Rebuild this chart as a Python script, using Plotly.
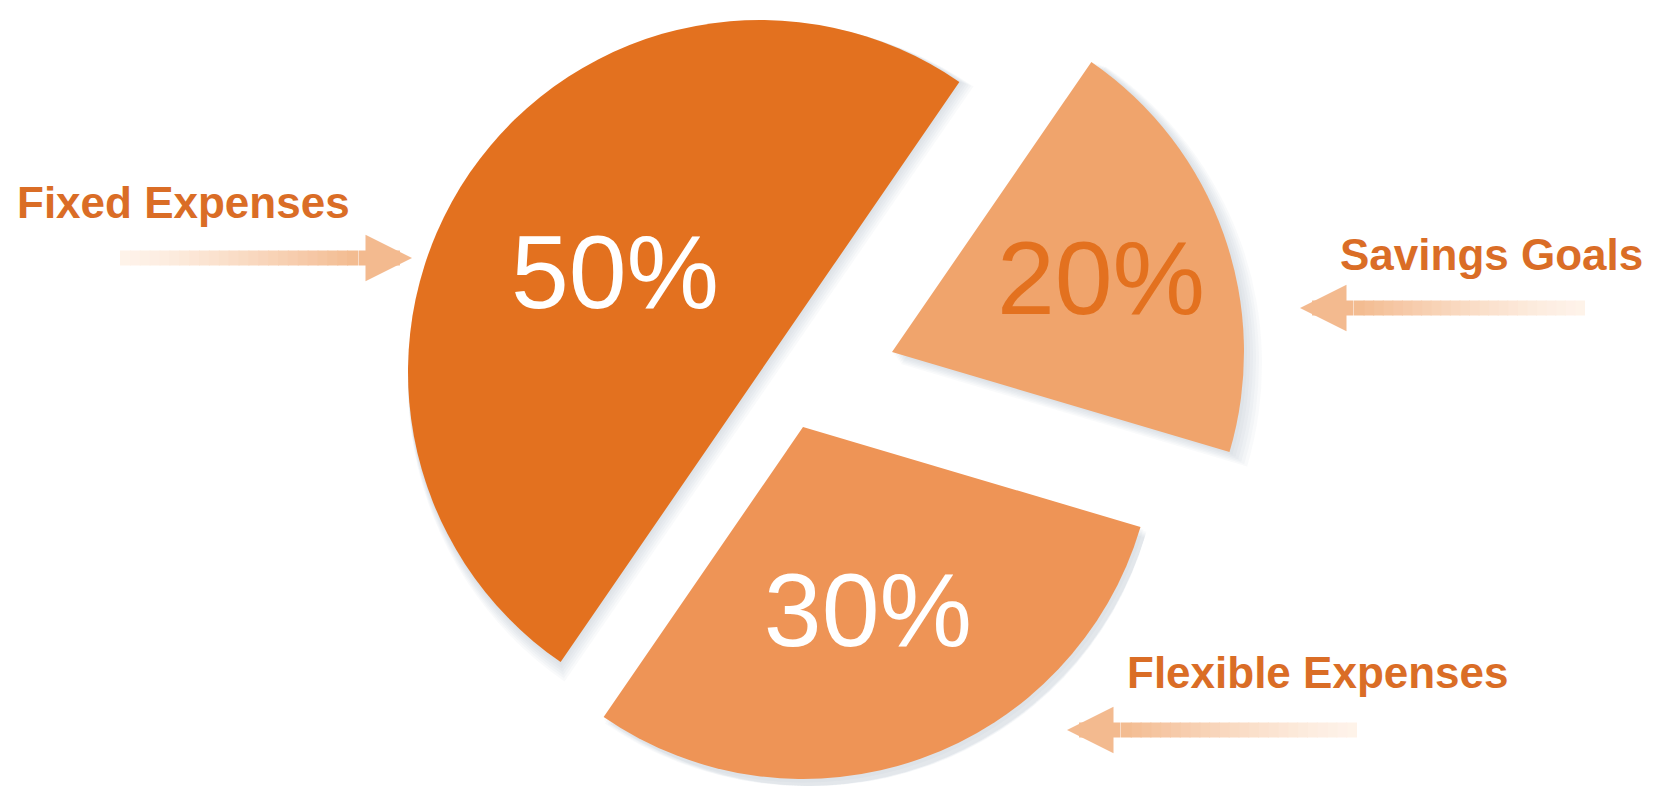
import plotly.graph_objects as go

# ---------------- data ----------------
categories = ["Fixed Expenses", "Savings Goals", "Flexible Expenses"]
shares = [50, 20, 30]
slice_colors = ["#E3711F", "#F0A46C", "#EE9456"]
pct_text_colors = ["#FFFFFF", "#E3711F", "#FFFFFF"]

# ---------------- layout constants ----------------
W, H = 1663, 786
R = 352
ROTATION = 214.5
# pixel position of each exploded slice's centre point
apex = [(760, 372), (892, 352), (803, 427)]

FONT = "Liberation Sans, Arial, Helvetica, sans-serif"
LABEL_COLOR = "#DA6D26"

fig = go.Figure()


def slice_trace(i, cx, cy, radius, color, with_text):
    # keep the pie box inside the paper
    radius = min(radius, cx, W - cx, cy, H - cy)
    colors = [color if j == i else "rgba(0,0,0,0)" for j in range(len(shares))]
    texts = [f"{shares[j]}%" if (j == i and with_text) else "" for j in range(len(shares))]
    return go.Pie(
        labels=categories,
        values=shares,
        sort=False,
        direction="clockwise",
        rotation=ROTATION,
        marker=dict(colors=colors, line=dict(width=0)),
        text=texts,
        textinfo="text",
        textposition="inside",
        insidetextorientation="horizontal",
        insidetextfont=dict(color=pct_text_colors[i], size=104, family=FONT),
        domain=dict(x=[max(0, (cx - radius) / W), min(1, (cx + radius) / W)],
                    y=[max(0, 1 - (cy + radius) / H), min(1, 1 - (cy - radius) / H)]),
        showlegend=False,
        hoverinfo="skip" if not with_text else "label+percent",
    )


# soft shadows (layered translucent copies, offset down-right)
for i, (cx, cy) in enumerate(apex):
    for k in range(6, 0, -1):
        fig.add_trace(slice_trace(i, cx + 1.5 * k, cy + 2 * k,
                                  R + 1.5 * k, "rgba(140,155,175,0.055)", False))

# the slices themselves
for i, (cx, cy) in enumerate(apex):
    fig.add_trace(slice_trace(i, cx, cy, R, slice_colors[i], True))

# ---------------- labels ----------------
label_pos = [(15, 202, "left"), (1645, 254, "right"), (1125, 672, "left")]
for name, (lx, ly, anc) in zip(categories, label_pos):
    fig.add_annotation(
        x=lx / W, y=1 - ly / H, xref="paper", yref="paper",
        text=name, showarrow=False, xanchor=anc, yanchor="middle",
        font=dict(family=FONT, size=44, color=LABEL_COLOR, weight="bold"),
    )

# ---------------- gradient arrows ----------------
def lerp_color(c1, c2, t):
    a = [int(c1[k:k + 2], 16) for k in (1, 3, 5)]
    b = [int(c2[k:k + 2], 16) for k in (1, 3, 5)]
    return "rgb({},{},{})".format(*[round(a[k] + (b[k] - a[k]) * t) for k in range(3)])


PALE, PEACH = "#FEF3EA", "#F3BA8F"


def add_arrow(x_tail, x_tip, y, n=24):
    d = 1 if x_tip > x_tail else -1
    head_back = 55
    shaft_end = x_tip - d * head_back
    for k in range(n):
        x0 = x_tail + (shaft_end - x_tail) * k / n
        x1 = x_tail + (shaft_end - x_tail) * (k + 1) / n + d * 1
        fig.add_shape(type="line", xref="paper", yref="paper",
                      x0=x0 / W, x1=x1 / W, y0=1 - y / H, y1=1 - y / H,
                      line=dict(color=lerp_color(PALE, PEACH, ((k + 0.5) / n) ** 1.3), width=15))
    fig.add_annotation(x=x_tip / W, y=1 - y / H, xref="paper", yref="paper",
                       ax=-d * head_back, ay=0, text="", showarrow=True,
                       arrowhead=2, arrowsize=0.62, arrowwidth=15, arrowcolor=PEACH)


add_arrow(120, 412, 258)
add_arrow(1585, 1300, 308)
add_arrow(1357, 1067, 730)

fig.update_layout(
    width=W, height=H,
    margin=dict(l=0, r=0, t=0, b=0),
    paper_bgcolor="white", plot_bgcolor="white",
    showlegend=False,
)

fig.write_html("out.html")
